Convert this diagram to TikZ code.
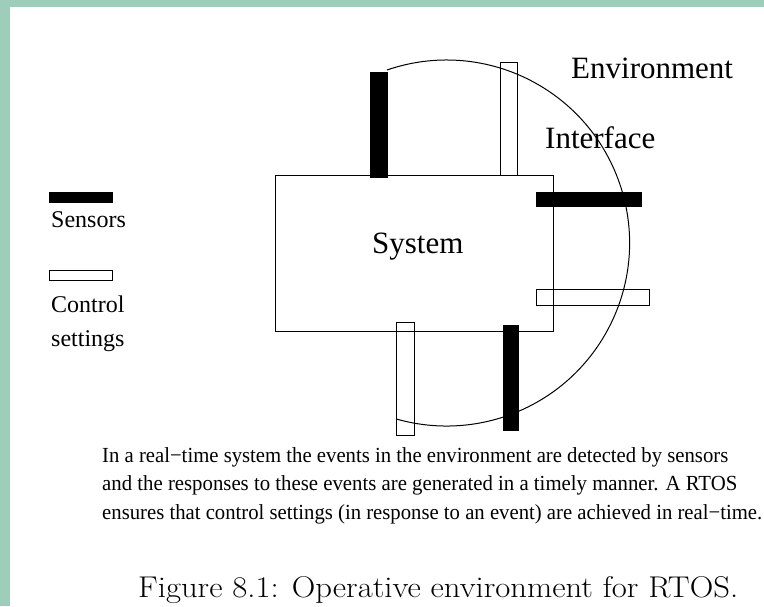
\documentclass[tikz,border=0pt]{standalone}
\usepackage{fontspec}
\usepackage{graphicx}
\newfontfamily\tms{Liberation Serif}
\definecolor{framegreen}{HTML}{9ECDB9}
\tikzset{
  sensorbar/.style={draw=black, fill=black, line width=0.8pt},
  ctrlbar/.style={draw=black, line width=0.8pt},
  biglbl/.style={inner sep=0pt, anchor=base west, font=\tms\fontsize{31}{31}\selectfont},
  leglbl/.style={inner sep=0pt, anchor=base west, font=\tms\fontsize{24}{24}\selectfont},
  paraline/.style={inner sep=0pt, anchor=base west},
}
\begin{document}
\begin{tikzpicture}[x=1pt,y=-1pt]
\fill[framegreen] (0,0) rectangle (764,606);
\fill[white] (10,7) rectangle (764,606);
\useasboundingbox (0,0) rectangle (764,606);
% interface circle
\draw[line width=1pt] (387,70) arc[start angle=109, end angle=-106, radius=183pt];
% system box
\node[draw, line width=1pt, minimum width=278pt, minimum height=156pt, inner sep=0pt, anchor=north west] (sys) at (275,175) {};
\node[biglbl] (systxt) at (372,253) {System};
% control settings bars (outlined)
\draw[ctrlbar] (500,62) rectangle (517,175);
\draw[ctrlbar] (536,289) rectangle (649,305);
\draw[ctrlbar] (396,322) rectangle (414,435);
% sensor bars (filled)
\draw[sensorbar] (370,72) rectangle (387,177);
\draw[sensorbar] (536,192) rectangle (641,206);
\draw[sensorbar] (503,325) rectangle (518,430);
% labels
\node[biglbl] (env) at (571,78) {Environment};
\node[biglbl] (intf) at (545,148) {Interface};
% legend
\draw[sensorbar] (49,192) rectangle (112,202);
\node[leglbl] (sens) at (51,227) {Sensors};
\draw[ctrlbar] (49,270) rectangle (112,280);
\node[leglbl] (ctl1) at (51,312) {Control};
\node[leglbl] (ctl2) at (51,346) {settings};
% paragraph
\node[paraline] (p1) at (102,462) {\resizebox{626pt}{\height}{\tms\fontsize{21.5}{21.5}\selectfont In a real−time system the events in the environment are detected by sensors}};
\node[paraline] (p2) at (102,490) {\resizebox{635pt}{\height}{\tms\fontsize{21.5}{21.5}\selectfont and the responses to these events are generated in a timely manner. A RTOS}};
\node[paraline] (p3) at (102,519) {\resizebox{660pt}{\height}{\tms\fontsize{21.5}{21.5}\selectfont ensures that control settings (in response to an event) are achieved in real−time.}};
% caption
\node[paraline] (cap) at (138,597) {\resizebox{600pt}{\height}{\fontsize{30}{30}\selectfont Figure 8.1: Operative environment for RTOS.}};
\end{tikzpicture}
\end{document}
